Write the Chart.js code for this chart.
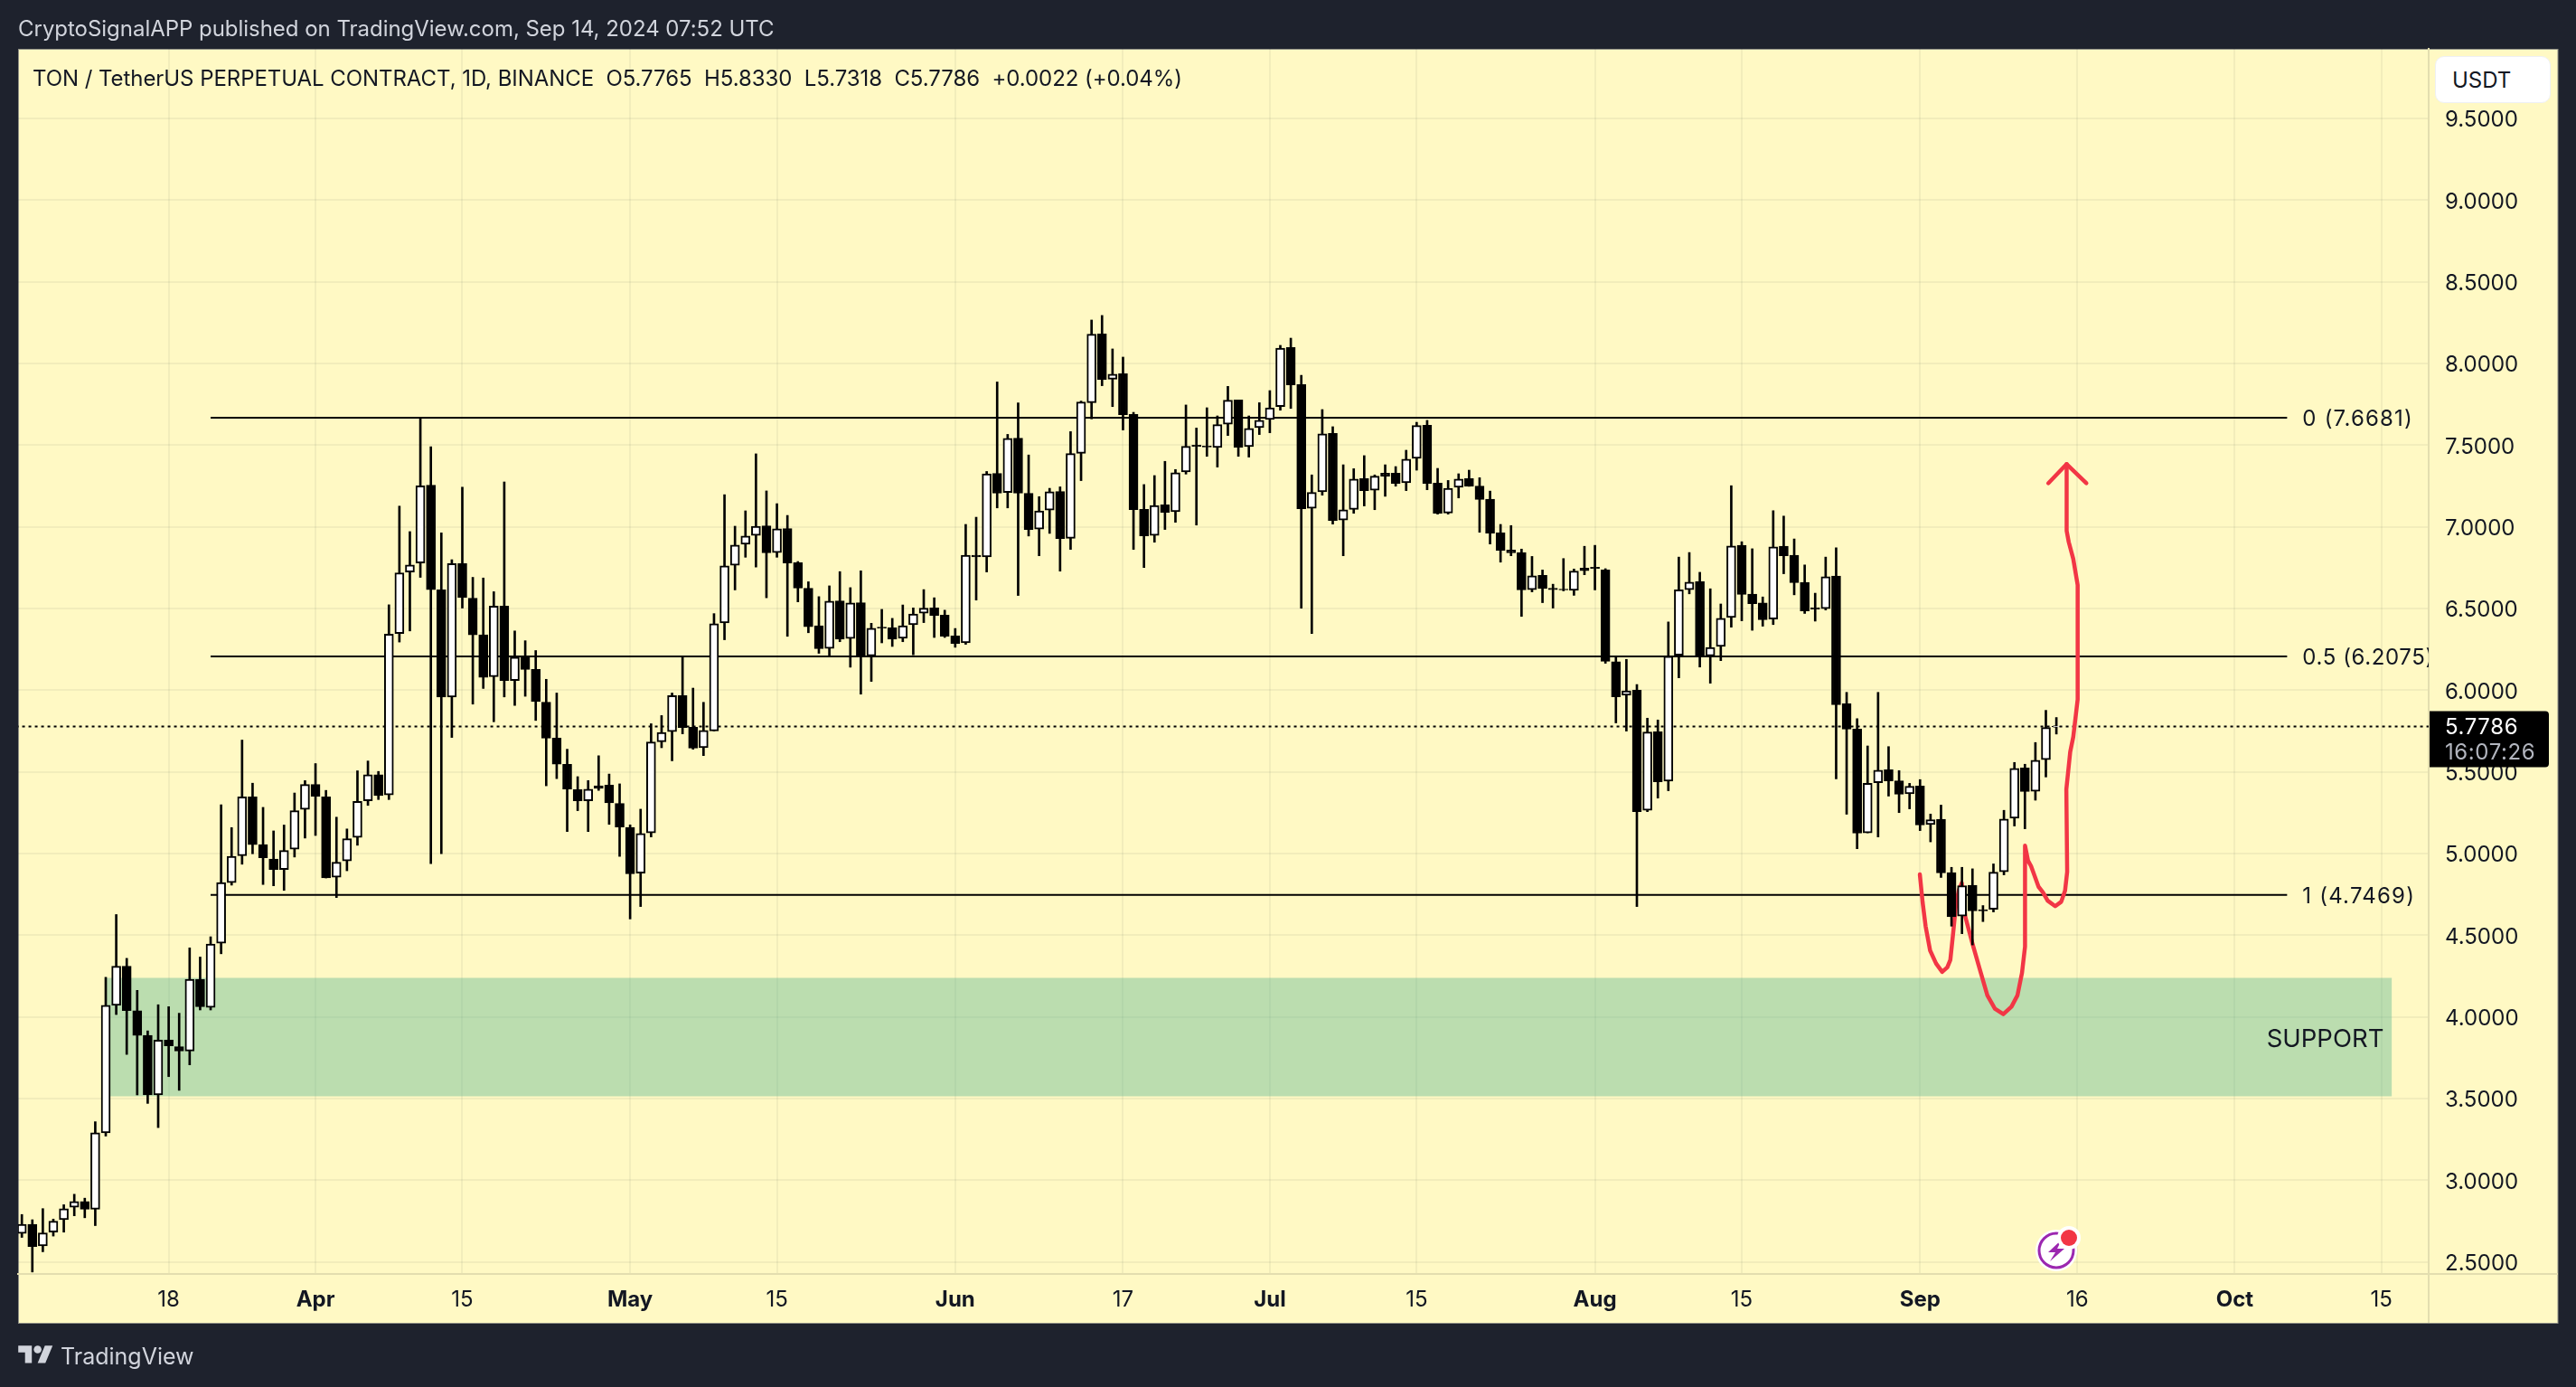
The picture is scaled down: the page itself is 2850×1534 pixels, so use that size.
<!DOCTYPE html>
<html>
<head>
<meta charset="utf-8">
<title>TON / TetherUS</title>
<script src="https://cdn.jsdelivr.net/npm/chart.js@4"></script>
<style>
  html, body { margin: 0; padding: 0; background: #1e222d; }
  body { width: 2850px; height: 1534px; position: relative; overflow: hidden; font-family: Inter, sans-serif; }
  canvas { position: absolute; left: 0; top: 0; }
  .txt { position: absolute; white-space: pre; line-height: 1; }
  #published { left: 20px; top: 20px; font-size: 24px; color: #d1d4dc; letter-spacing: -0.03px; }
  #legendLine { left: 36px; top: 75px; font-size: 24px; color: #131722; letter-spacing: -0.06px; }
  #unitBtn { left: 2694px; top: 62px; width: 128px; height: 52px; background: #fff; border: 1px solid #eef0f4; border-radius: 10px; box-sizing: border-box; padding: 14px 0 0 18px; font-size: 24px; color: #131722; }
  #brand { left: 67px; top: 1488px; font-size: 25px; color: #d1d4dc; }
  #tvLogo { position: absolute; left: 20px; top: 1484px; }
  #boltIcon { position: absolute; left: 2245px; top: 1350px; }
</style>
</head>
<body>
<canvas id="chart" width="2850" height="1534"></canvas>
<div class="txt" id="published">CryptoSignalAPP published on TradingView.com, Sep 14, 2024 07:52 UTC</div>
<div class="txt" id="legendLine">TON / TetherUS PERPETUAL CONTRACT, 1D, BINANCE  O5.7765  H5.8330  L5.7318  C5.7786  +0.0022 (+0.04%)</div>
<div class="txt" id="unitBtn">USDT</div>
<svg id="tvLogo" width="39" height="30" viewBox="0 0 36 28"><path fill="#d1d4dc" d="M14 22H7V11H0V4h14v18zM28 22h-8l7.5-18h8L28 22z"/><circle fill="#d1d4dc" cx="20" cy="8" r="4"/></svg>
<div class="txt" id="brand">TradingView</div>
<svg id="boltIcon" width="60" height="60" viewBox="0 0 60 60">
  <circle cx="30" cy="33" r="23" fill="#fff"/>
  <circle cx="30" cy="33" r="19" fill="none" stroke="#9c27b0" stroke-width="3"/>
  <path d="M36 21L21 35h8l-6 10 16-14h-8z" fill="#9c27b0"/>
  <circle cx="44" cy="19" r="13" fill="#fff"/>
  <circle cx="44" cy="19" r="9" fill="#f23645"/>
</svg>

<script>
// ============================
// DATA
// ============================
// x axis counts days, day 0 = Mar 18 2024, first candle is Mar 4
const firstBarDay = -14;

const opens = [
  2.675, 2.731, 2.599, 2.683, 2.759, 2.835, 2.871, 2.823, 3.291, 4.071,
  4.311, 4.039, 3.887, 3.523, 3.859, 3.819, 3.791, 4.231, 4.059, 4.451,
  4.823, 4.987, 5.347, 5.055, 4.967, 4.903, 5.027, 5.271, 5.423, 5.347,
  4.855, 4.955, 5.099, 5.323, 5.483, 5.359, 6.347, 6.723, 6.779, 7.255,
  6.615, 5.959, 6.775, 6.563, 6.339, 6.083, 6.515, 6.059, 6.207, 6.127,
  5.927, 5.707, 5.547, 5.391, 5.323, 5.415, 5.419, 5.307, 5.160, 4.880,
  5.127, 5.685, 5.747, 5.967, 5.774, 5.648, 5.751, 6.412, 6.765, 6.894,
  6.947, 7.006, 6.843, 6.990, 6.781, 6.625, 6.394, 6.256, 6.547, 6.316,
  6.536, 6.210, 6.387, 6.382, 6.318, 6.401, 6.472, 6.504, 6.460, 6.332,
  6.290, 6.827, 6.816, 7.327, 7.210, 7.543, 7.206, 6.986, 7.103, 7.217,
  6.930, 7.450, 7.760, 8.181, 7.904, 7.937, 7.688, 7.107, 6.947, 7.135,
  7.093, 7.336, 7.500, 7.495, 7.486, 7.629, 7.777, 7.491, 7.607, 7.657,
  7.736, 8.098, 7.871, 7.113, 7.214, 7.572, 7.041, 7.107, 7.296, 7.225,
  7.329, 7.329, 7.270, 7.419, 7.622, 7.268, 7.085, 7.242, 7.296, 7.250,
  7.169, 6.963, 6.858, 6.843, 6.616, 6.703, 6.625, 6.619, 6.612, 6.748,
  6.753, 6.736, 6.175, 5.969, 6.000, 5.265, 5.746, 5.443, 6.214, 6.616,
  6.666, 6.210, 6.268, 6.445, 6.887, 6.588, 6.534, 6.435, 6.881, 6.827,
  6.660, 6.505, 6.499, 6.699, 5.917, 5.763, 5.127, 5.434, 5.513, 5.446,
  5.366, 5.414, 5.178, 5.210, 4.884, 4.618, 4.806, 4.657, 4.659, 4.889,
  5.217, 5.524, 5.382, 5.575, 5.7765
];
const highs = [
  2.791, 2.759, 2.827, 2.763, 2.851, 2.915, 2.891, 3.359, 4.243, 4.627,
  4.359, 4.163, 3.915, 4.075, 4.063, 4.023, 4.423, 4.367, 4.491, 5.299,
  5.159, 5.695, 5.431, 5.283, 5.139, 5.175, 5.371, 5.447, 5.551, 5.387,
  5.223, 5.151, 5.507, 5.567, 5.503, 6.523, 7.127, 6.971, 7.667, 7.491,
  6.963, 6.799, 7.243, 6.691, 6.687, 6.603, 7.275, 6.363, 6.303, 6.243,
  6.067, 5.983, 5.639, 5.471, 5.447, 5.599, 5.487, 5.427, 5.176, 5.272,
  5.795, 5.845, 5.983, 6.206, 6.013, 5.926, 6.469, 7.197, 7.004, 7.098,
  7.447, 7.220, 7.142, 7.070, 6.788, 6.664, 6.573, 6.639, 6.726, 6.628,
  6.731, 6.410, 6.495, 6.440, 6.522, 6.504, 6.616, 6.566, 6.490, 6.378,
  7.015, 7.059, 7.339, 7.887, 7.566, 7.759, 7.440, 7.185, 7.236, 7.245,
  7.583, 7.770, 8.266, 8.294, 8.089, 8.039, 7.701, 7.259, 7.314, 7.401,
  7.351, 7.746, 7.605, 7.729, 7.679, 7.860, 7.777, 7.679, 7.760, 7.834,
  8.111, 8.155, 7.928, 7.318, 7.718, 7.613, 7.380, 7.356, 7.436, 7.318,
  7.380, 7.369, 7.469, 7.640, 7.652, 7.358, 7.284, 7.325, 7.347, 7.301,
  7.219, 7.015, 7.008, 6.864, 6.819, 6.736, 6.649, 6.806, 6.742, 6.881,
  6.887, 6.744, 6.206, 6.189, 6.035, 5.829, 5.818, 6.418, 6.815, 6.843,
  6.722, 6.621, 6.528, 7.252, 6.909, 6.866, 6.571, 7.099, 7.066, 6.926,
  6.767, 6.594, 6.815, 6.872, 5.987, 5.826, 5.659, 5.987, 5.655, 5.508,
  5.430, 5.453, 5.242, 5.297, 4.916, 4.916, 4.907, 4.682, 4.937, 5.265,
  5.558, 5.547, 5.680, 5.877, 5.8330
];
const lows = [
  2.651, 2.439, 2.563, 2.659, 2.683, 2.783, 2.771, 2.723, 3.271, 4.015,
  3.771, 3.523, 3.471, 3.323, 3.635, 3.551, 3.707, 4.043, 4.043, 4.387,
  4.807, 4.935, 4.999, 4.811, 4.803, 4.775, 4.979, 5.095, 5.111, 4.851,
  4.731, 4.895, 5.051, 5.295, 5.331, 5.331, 6.295, 6.363, 6.691, 4.939,
  4.999, 5.711, 6.503, 5.915, 6.011, 5.807, 5.959, 5.907, 5.963, 5.815,
  5.415, 5.459, 5.135, 5.263, 5.135, 5.387, 5.179, 4.983, 4.600, 4.676,
  5.102, 5.648, 5.568, 5.733, 5.639, 5.600, 5.751, 6.309, 6.614, 6.814,
  6.754, 6.566, 6.814, 6.330, 6.541, 6.352, 6.226, 6.210, 6.297, 6.141,
  5.976, 6.054, 6.290, 6.268, 6.297, 6.217, 6.414, 6.323, 6.323, 6.263,
  6.281, 6.552, 6.724, 7.116, 7.116, 6.580, 6.944, 6.823, 6.960, 6.729,
  6.862, 7.283, 7.661, 7.864, 7.736, 7.593, 6.862, 6.751, 6.906, 6.984,
  7.028, 7.323, 7.011, 7.432, 7.366, 7.559, 7.432, 7.427, 7.565, 7.576,
  7.714, 7.725, 6.502, 6.347, 7.194, 7.017, 6.823, 7.083, 7.128, 7.105,
  7.187, 7.249, 7.222, 7.347, 7.227, 7.078, 7.078, 7.177, 7.248, 6.967,
  6.895, 6.784, 6.823, 6.452, 6.602, 6.536, 6.503, 6.608, 6.581, 6.707,
  6.614, 6.165, 5.800, 5.750, 4.676, 5.257, 5.340, 5.385, 6.076, 6.590,
  6.142, 6.043, 6.181, 6.386, 6.425, 6.367, 6.392, 6.402, 6.713, 6.584,
  6.470, 6.423, 6.491, 5.457, 5.241, 5.030, 5.127, 5.102, 5.352, 5.251,
  5.274, 5.141, 5.072, 4.854, 4.556, 4.510, 4.441, 4.584, 4.643, 4.870,
  5.169, 5.152, 5.327, 5.469, 5.7318
];
const closes = [
  2.731, 2.595, 2.679, 2.751, 2.827, 2.871, 2.823, 3.291, 4.071, 4.311,
  4.039, 3.887, 3.523, 3.859, 3.823, 3.791, 4.231, 4.063, 4.447, 4.823,
  4.983, 5.347, 5.055, 4.975, 4.903, 5.019, 5.263, 5.423, 5.351, 4.851,
  4.947, 5.091, 5.319, 5.483, 5.355, 6.343, 6.719, 6.767, 7.251, 6.615,
  5.959, 6.775, 6.567, 6.339, 6.079, 6.515, 6.059, 6.203, 6.127, 5.931,
  5.707, 5.547, 5.395, 5.323, 5.395, 5.399, 5.311, 5.163, 4.877, 5.123,
  5.683, 5.742, 5.967, 5.772, 5.646, 5.754, 6.407, 6.761, 6.889, 6.944,
  7.004, 6.841, 6.988, 6.779, 6.625, 6.389, 6.254, 6.545, 6.313, 6.534,
  6.210, 6.380, 6.380, 6.313, 6.394, 6.467, 6.502, 6.458, 6.330, 6.286,
  6.827, 6.816, 7.325, 7.206, 7.541, 7.206, 6.983, 7.098, 7.215, 6.928,
  7.449, 7.764, 8.179, 7.902, 7.934, 7.687, 7.105, 6.945, 7.131, 7.089,
  7.332, 7.493, 7.493, 7.489, 7.626, 7.775, 7.487, 7.602, 7.652, 7.729,
  8.094, 7.869, 7.111, 7.211, 7.570, 7.039, 7.105, 7.292, 7.222, 7.310,
  7.310, 7.266, 7.415, 7.620, 7.266, 7.083, 7.236, 7.292, 7.249, 7.167,
  6.961, 6.856, 6.841, 6.614, 6.701, 6.623, 6.616, 6.614, 6.730, 6.732,
  6.746, 6.177, 5.960, 5.996, 5.257, 5.744, 5.439, 6.208, 6.614, 6.662,
  6.210, 6.262, 6.441, 6.883, 6.586, 6.530, 6.431, 6.878, 6.823, 6.658,
  6.486, 6.497, 6.695, 5.911, 5.762, 5.125, 5.430, 5.511, 5.445, 5.364,
  5.412, 5.175, 5.207, 4.882, 4.613, 4.804, 4.650, 4.650, 4.886, 5.212,
  5.522, 5.380, 5.572, 5.772, 5.7786
];

const priceTicks = [2.5, 3, 3.5, 4, 4.5, 5, 5.5, 6, 6.5, 7, 7.5, 8, 8.5, 9, 9.5];
const dayTicks   = [0, 14, 28, 44, 58, 75, 91, 105, 119, 136, 150, 167, 182, 197, 211];
const dayLabels  = ["18", "Apr", "15", "May", "15", "Jun", "17", "Jul", "15", "Aug", "15", "Sep", "16", "Oct", "15"];

// fib levels drawn by hand on the chart
const fibLevels = [7.6681, 6.2075, 4.7469];
const fibNames  = ["0 (7.6681)", "0.5 (6.2075)", "1 (4.7469)"];
const fibDays   = [4, 202];

const supportDays = [-6, 212];
const supportHigh = 4.24;
const supportLow  = 3.514;

const lastPrice = 5.7786;
const countdown = "16:07:26";

// red pen stroke
const penDays = [
  166.98, 167.24, 167.53, 167.96, 168.53, 169.11, 169.60, 169.89, 170.17, 170.40,
  170.69, 170.98, 171.32, 171.98, 172.70, 173.42, 174.14, 174.94, 175.72, 176.29,
  176.72, 177.01, 177.01, 177.30, 177.59, 178.30, 178.73, 179.17, 179.89, 180.46,
  180.83, 181.03, 180.95, 181.32, 181.61, 182.03, 182.03, 181.61, 181.18, 180.98, 180.98
];
const penPrices = [
  4.873, 4.705, 4.556, 4.407, 4.327, 4.276, 4.304, 4.350, 4.522, 4.671,
  4.774, 4.820, 4.613, 4.453, 4.292, 4.132, 4.051, 4.017, 4.063, 4.132,
  4.269, 4.430, 5.049, 4.957, 4.923, 4.797, 4.762, 4.712, 4.678, 4.705,
  4.774, 4.889, 5.393, 5.623, 5.714, 5.944, 6.644, 6.804, 6.907, 6.976, 7.384
];
const arrowDays   = [179.23, 180.98, 182.86];
const arrowPrices = [7.267, 7.384, 7.267];

// ============================
// COLORS
// ============================
const paneColor = "#fff9c4";
const gridColor = "rgba(42,46,57,0.06)";
const axisColor = "#e3deaf";
const inkColor  = "#131722";
const penColor  = "#f23645";
const fontName  = "Inter, sans-serif";

// ============================
// DATASETS
// ============================
const wickPoints = lows.map((low, i) => ({ x: firstBarDay + i, y: [low, highs[i]] }));
const bodyPoints = opens.map((open, i) => ({ x: firstBarDay + i, y: [open, closes[i]] }));

function hLine(days, price){
  return days.map(d => ({ x: d, y: price }));
}
function zipPoints(xs, ys){
  return xs.map((x, i) => ({ x: x, y: ys[i] }));
}
function lineSet(points, extra){
  return Object.assign({
    type: "line",
    data: points,
    borderColor: "#000",
    borderWidth: 2,
    pointRadius: 0,
    tension: 0,
    fill: false
  }, extra);
}

const datasets = [
  lineSet(hLine(supportDays, supportHigh), {
    borderWidth: 0,
    backgroundColor: "rgba(85,179,146,0.4)",
    fill: { value: supportLow },
    order: 8
  }),
  lineSet(hLine([-20, 220], lastPrice), { borderDash: [3, 4], order: 6 }),
  lineSet(hLine(fibDays, fibLevels[0]), { order: 5 }),
  lineSet(hLine(fibDays, fibLevels[1]), { order: 5 }),
  lineSet(hLine(fibDays, fibLevels[2]), { order: 5 }),
  lineSet(zipPoints(penDays, penPrices), {
    borderColor: penColor, borderWidth: 4.5, borderCapStyle: "round", borderJoinStyle: "round", order: 4
  }),
  lineSet(zipPoints(arrowDays, arrowPrices), {
    borderColor: penColor, borderWidth: 4.5, borderCapStyle: "round", borderJoinStyle: "round", order: 4
  }),
  {
    type: "bar",
    data: wickPoints,
    backgroundColor: "#000",
    barThickness: 2,
    grouped: false,
    order: 2
  },
  {
    type: "bar",
    data: bodyPoints,
    backgroundColor: bodyPoints.map((p, i) => closes[i] >= opens[i] ? "#fff" : "#000"),
    borderColor: "#000",
    borderWidth: 2,
    borderSkipped: false,
    barThickness: 10,
    grouped: false,
    order: 1
  }
];

// ============================
// PANE + LABELS PLUGIN
// ============================
const panePlugin = {
  id: "pane",
  beforeDraw(chart){
    const { ctx, chartArea } = chart;
    const paneRight = chart.scales.y.right;
    const paneBottom = chart.scales.x.bottom;
    ctx.save();
    ctx.fillStyle = paneColor;
    ctx.fillRect(20, chartArea.top, paneRight - 20, paneBottom - chartArea.top);
    ctx.strokeStyle = "#8f9086";
    ctx.lineWidth = 1;
    ctx.strokeRect(20.5, chartArea.top + 0.5, paneRight - 20.5, paneBottom - chartArea.top);
    ctx.restore();
  },
  afterDraw(chart){
    const { ctx, chartArea, scales } = chart;
    const x = scales.x, y = scales.y;

    ctx.save();
    // axis corner lines
    ctx.strokeStyle = axisColor;
    ctx.lineWidth = 2;
    ctx.beginPath();
    ctx.moveTo(chartArea.right, chartArea.bottom);
    ctx.lineTo(chartArea.right, x.bottom);
    ctx.moveTo(chartArea.right, chartArea.bottom);
    ctx.lineTo(y.right, chartArea.bottom);
    ctx.stroke();

    // fib labels, cut off at the price axis
    ctx.save();
    ctx.beginPath();
    ctx.rect(chartArea.left, chartArea.top, chartArea.right - chartArea.left, chartArea.bottom - chartArea.top);
    ctx.clip();
    ctx.font = "24px " + fontName;
    ctx.fillStyle = inkColor;
    ctx.textAlign = "left";
    ctx.textBaseline = "middle";
    fibLevels.forEach((level, i) => {
      ctx.letterSpacing = i === 1 ? "0.6px" : "1.2px";
      ctx.fillText(fibNames[i], x.getPixelForValue(fibDays[1]) + 17, y.getPixelForValue(level) + 2);
    });
    ctx.font = "27.5px " + fontName;
    ctx.letterSpacing = "0px";
    ctx.textAlign = "right";
    ctx.fillText("SUPPORT", x.getPixelForValue(supportDays[1]) - 9, y.getPixelForValue((supportHigh + supportLow) / 2) + 3);
    ctx.restore();

    // last price tag
    const tagTop = y.getPixelForValue(lastPrice) - 17;
    ctx.fillStyle = "#000";
    ctx.beginPath();
    ctx.roundRect(chartArea.right + 1, tagTop, 132, 62, [0, 4, 4, 0]);
    ctx.fill();
    ctx.font = "24px " + fontName;
    ctx.letterSpacing = "0.6px";
    ctx.textAlign = "left";
    ctx.textBaseline = "middle";
    ctx.fillStyle = "#fff";
    ctx.fillText(lastPrice.toFixed(4), chartArea.right + 18, tagTop + 18);
    ctx.fillStyle = "#b2b5be";
    ctx.fillText(countdown, chartArea.right + 18, tagTop + 46);
    ctx.restore();
  }
};

// ============================
// CHART
// ============================
new Chart(document.getElementById("chart"), {
  type: "bar",
  data: { datasets: datasets },
  plugins: [panePlugin],
  options: {
    responsive: false,
    devicePixelRatio: 1,
    animation: false,
    layout: { padding: { left: 20, top: 54, right: 20, bottom: 71 } },
    plugins: {
      legend: { display: false },
      title: { display: false },
      tooltip: { enabled: false }
    },
    scales: {
      x: {
        type: "linear",
        min: -14.36,
        max: 215.5,
        offset: false,
        afterBuildTicks: axis => { axis.ticks = dayTicks.map(d => ({ value: d })); },
        afterFit: axis => { axis.height = 54; },
        grid: { color: gridColor, lineWidth: 2, offset: false, drawTicks: false },
        border: { display: true, color: axisColor, width: 2 },
        ticks: {
          autoSkip: false,
          maxRotation: 0,
          padding: 14,
          color: inkColor,
          callback: (value, index) => dayLabels[index],
          font: ctx => ({
            family: fontName,
            size: 24,
            weight: isNaN(dayLabels[ctx.index]) ? "700" : "400"
          })
        }
      },
      y: {
        type: "linear",
        position: "right",
        min: 2.427,
        max: 9.926,
        afterBuildTicks: axis => { axis.ticks = priceTicks.map(v => ({ value: v })); },
        afterFit: axis => { axis.width = 143; },
        grid: { color: gridColor, lineWidth: 2, drawTicks: false },
        border: { display: true, color: axisColor, width: 2 },
        ticks: {
          autoSkip: false,
          padding: 18,
          labelOffset: 2,
          color: inkColor,
          font: { family: fontName, size: 24 },
          callback: value => Number(value).toFixed(4)
        }
      }
    }
  }
});
</script>
</body>
</html>
